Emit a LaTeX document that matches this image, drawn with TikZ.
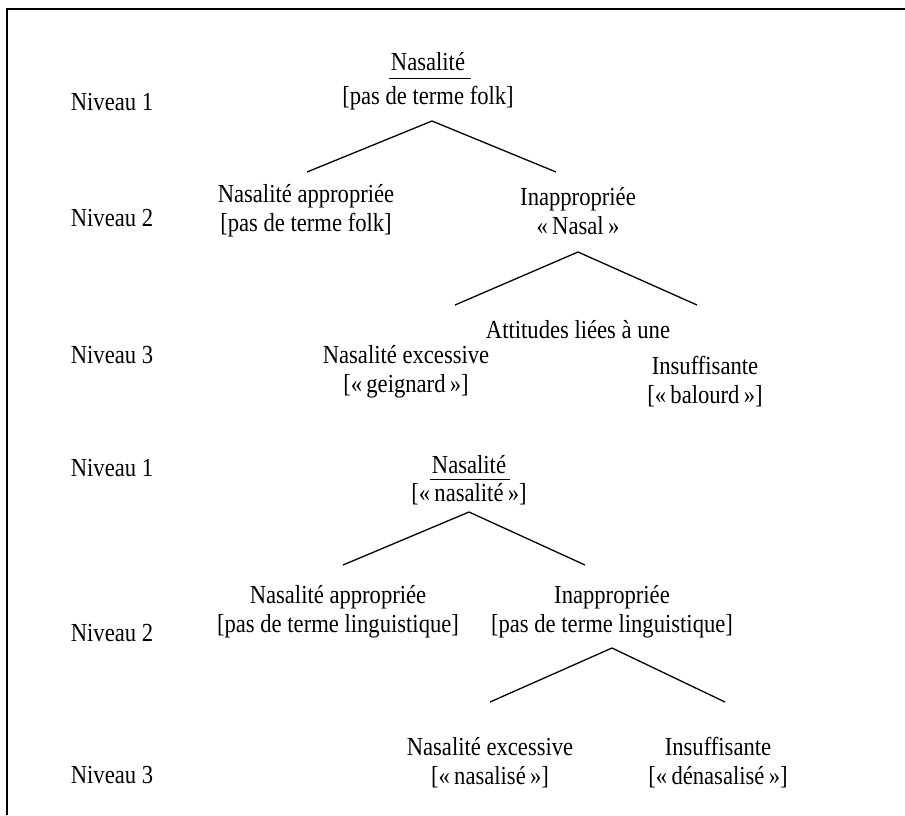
\documentclass[tikz,border=0pt]{standalone}
\usepackage{fontspec}
\setmainfont{Liberation Serif}[FakeStretch=0.87]
\begin{document}
\begin{tikzpicture}[x=1pt,y=-1pt,
  txt/.style={inner sep=0pt, align=center, font=\fontsize{26}{29}\selectfont},
  branch/.style={line width=1.3pt},
  frame/.style={line width=1.6pt}]
\useasboundingbox (0,0) rectangle (905,815);
\draw[frame] (7,815) -- (7,9) -- (905,9);
% level labels
\node[txt] (l1) at (112,102) {Niveau 1};
\node[txt] (l2) at (112,218) {Niveau 2};
\node[txt] (l3) at (112,355) {Niveau 3};
\node[txt] (m1) at (112,468) {Niveau 1};
\node[txt] (m2) at (112,633) {Niveau 2};
\node[txt] (m3) at (112,775) {Niveau 3};
% first tree
\node[txt] (t1a) at (428,62) {Nasalité};
\node[txt] (t1b) at (428,98) {{[}pas de terme folk{]}};
\draw[line width=1.3pt] ([xshift=-2pt,yshift=-7pt]t1a.south west) -- ([xshift=6pt,yshift=-7pt]t1a.south east);
\node[txt] (t2a) at (306,211) {Nasalité appropriée\\{[}pas de terme folk{]}};
\node[txt] (t2b) at (578,211) {Inappropriée\\«\,Nasal\,»};
\node[txt] (t3x) at (578,330) {Attitudes liées à une};
\node[txt] (t3a) at (406,372) {Nasalité excessive\\{[}«\,geignard\,»{]}};
\node[txt] (t3b) at (705,382) {Insuffisante\\{[}«\,balourd\,»{]}};
\coordinate (a1) at (432,121);
\coordinate (a1l) at (307,172);
\coordinate (a1r) at (556,172);
\coordinate (a2) at (578,252);
\coordinate (a2l) at (455,305);
\coordinate (a2r) at (697,305);
\draw[branch] (a1l) -- (a1) -- (a1r);
\draw[branch] (a2l) -- (a2) -- (a2r);
% second tree
\node[txt] (b1a) at (469,465) {Nasalité};
\node[txt] (b1b) at (469,494) {{[}«\,nasalité\,»{]}};
\draw[line width=1.3pt] ([xshift=-2pt,yshift=-5pt]b1a.south west) -- ([xshift=4pt,yshift=-5pt]b1a.south east);
\node[txt] (b2a) at (338,612) {Nasalité appropriée\\{[}pas de terme linguistique{]}};
\node[txt] (b2b) at (612,612) {Inappropriée\\{[}pas de terme linguistique{]}};
\node[txt] (b3a) at (490,763) {Nasalité excessive\\{[}«\,nasalisé\,»{]}};
\node[txt] (b3b) at (718,763) {Insuffisante\\{[}«\,dénasalisé\,»{]}};
\coordinate (c1) at (469,512);
\coordinate (c1l) at (343,565);
\coordinate (c1r) at (585,565);
\coordinate (c2) at (612,648);
\coordinate (c2l) at (490,702);
\coordinate (c2r) at (725,702);
\draw[branch] (c1l) -- (c1) -- (c1r);
\draw[branch] (c2l) -- (c2) -- (c2r);
\end{tikzpicture}
\end{document}
